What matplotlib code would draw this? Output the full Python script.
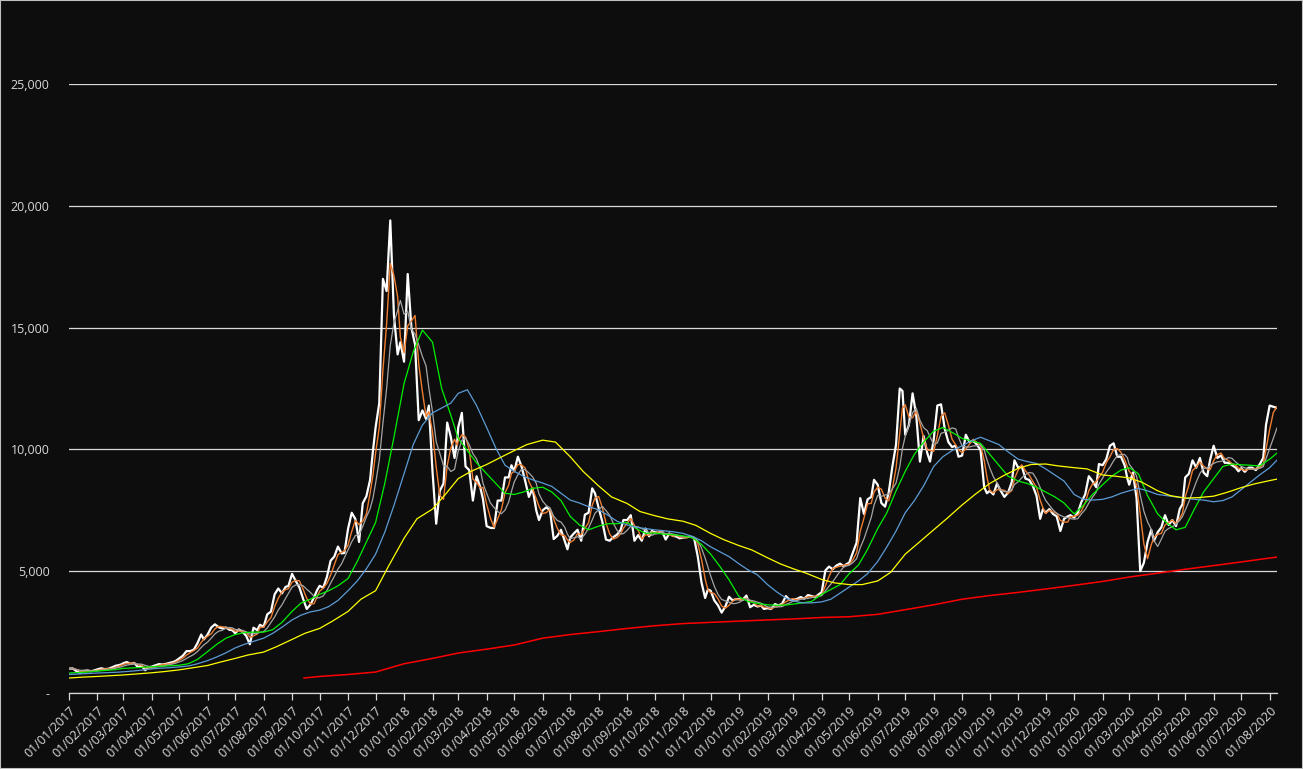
import matplotlib

matplotlib.use("Agg")
import matplotlib.pyplot as plt
import matplotlib.dates as mdates
from matplotlib.ticker import FuncFormatter, MultipleLocator
from matplotlib.patches import Rectangle
import pandas as pd

# ---------------------------------------------------------------------------
# data (USD)
# ---------------------------------------------------------------------------

# price sampled on these days of every month, Jan 2017 - Jul 2020, then 1/5/9 Aug 2020
price_days = [1, 5, 9, 13, 17, 21, 25, 28]
price = [
    # 2017
    998, 1010, 900, 825, 905, 925, 895, 920,
    970, 1015, 980, 995, 1055, 1120, 1150, 1190,
    1222, 1270, 1195, 1235, 1070, 1115, 935, 1045,
    1080, 1135, 1185, 1170, 1200, 1240, 1280, 1335,
    1420, 1530, 1720, 1720, 1780, 2050, 2400, 2200,
    2400, 2690, 2820, 2700, 2650, 2690, 2590, 2580,
    2450, 2610, 2510, 2350, 2000, 2680, 2580, 2800,
    2720, 3230, 3340, 4050, 4290, 4090, 4360, 4390,
    4890, 4600, 4330, 3870, 3450, 3630, 3930, 4200,
    4400, 4320, 4770, 5430, 5600, 6010, 5730, 5750,
    6740, 7400, 7140, 6200, 7790, 8080, 8750, 9900,
    10900, 11900, 17000, 16500, 19400, 15500, 13900, 14400,
    # 2018
    13600, 17200, 15000, 14300, 11200, 11600, 11250, 11800,
    9100, 6950, 8300, 8600, 11100, 10500, 9650, 10350,
    10900, 11500, 9300, 9150, 7900, 8900, 8450, 7950,
    6850, 6780, 6770, 7900, 7900, 8850, 8850, 9350,
    9100, 9700, 9300, 8700, 8050, 8400, 7500, 7100,
    7500, 7620, 7500, 6320, 6450, 6700, 6250, 5900,
    6380, 6550, 6700, 6250, 7320, 7400, 8400, 8200,
    7600, 7030, 6300, 6250, 6400, 6500, 6700, 7100,
    7100, 7300, 6250, 6480, 6250, 6750, 6430, 6650,
    6600, 6580, 6650, 6300, 6550, 6450, 6420, 6350,
    6380, 6400, 6420, 6360, 5600, 4550, 3900, 4250,
    4200, 3800, 3600, 3300, 3550, 3950, 3800, 3850,
    # 2019
    3850, 3830, 4000, 3520, 3620, 3550, 3590, 3450,
    3480, 3450, 3650, 3590, 3670, 3980, 3820, 3820,
    3830, 3860, 3940, 3870, 4020, 3980, 3930, 4030,
    4140, 5030, 5190, 5080, 5230, 5310, 5200, 5290,
    5350, 5770, 6170, 8000, 7350, 7950, 8050, 8750,
    8550, 7800, 7650, 8230, 9300, 10200, 12500, 12400,
    10600, 11000, 12300, 11400, 9500, 10550, 9850, 9500,
    10400, 11800, 11850, 10850, 10300, 10100, 10150, 9700,
    9750, 10600, 10300, 10350, 10200, 9980, 8450, 8200,
    8300, 8150, 8600, 8300, 8050, 8220, 8650, 9550,
    9250, 9300, 8800, 8750, 8500, 8100, 7150, 7550,
    7400, 7550, 7350, 7250, 6650, 7150, 7250, 7300,
    # 2020
    7200, 7400, 7850, 8150, 8900, 8700, 8450, 9400,
    9350, 9600, 10150, 10250, 9700, 9700, 9350, 8800,
    8550, 9050, 8000, 5000, 5350, 6200, 6700, 6250,
    6600, 6800, 7300, 6900, 7100, 6850, 7550, 7750,
    8850, 9000, 9550, 9250, 9650, 9050, 8900, 9550,
    10150, 9650, 9750, 9450, 9450, 9350, 9250, 9100,
    9230, 9080, 9250, 9250, 9150, 9380, 9650, 11000,
    11800, 11750, 11700,
]

# green and blue averages read on the 1st, 11th and 21st, then 1 and 9 Aug 2020
ma_mid_days = [1, 11, 21]
ma_green = [
    820, 840, 860, 900, 930, 960, 1010, 1030, 1050, 1080, 1100, 1115,
    1140, 1200, 1380, 1700, 2000, 2250, 2400, 2480, 2500, 2500, 2600, 2900,
    3350, 3700, 3850, 4050, 4200, 4400, 4700, 5400, 6200, 7000, 8600, 10500,
    12700, 14000, 14900, 14400, 12500, 11400, 10450, 9950, 9450, 9000, 8600, 8200,
    8150, 8250, 8400, 8450, 8250, 7900, 7250, 6900, 6700, 6850, 6950, 6950,
    7000, 6750, 6550, 6570, 6520, 6500, 6450, 6380, 6100, 5700, 5200, 4650,
    3950, 3750, 3680, 3620, 3600, 3610, 3650, 3700, 3760, 4050, 4250, 4450,
    4900, 5250, 5900, 6750, 7400, 8300, 9100, 9800, 10300, 10750, 10900, 10700,
    10450, 10350, 10250, 9800, 9350, 8900, 8700, 8600, 8450, 8250, 8050, 7800,
    7350, 7700, 8150, 8550, 8900, 9150, 9250, 9000, 8100, 7350, 6980, 6700,
    6800, 7550, 8250, 8800, 9300, 9400, 9370, 9350, 9320,
    9600, 9850,
]
ma_blue = [
    760, 780, 800, 820, 835, 850, 870, 900, 940, 990, 1020, 1040,
    1070, 1110, 1200, 1330, 1480, 1650, 1850, 2000, 2120, 2250, 2450, 2700,
    3000, 3200, 3330, 3400, 3550, 3800, 4200, 4600, 5100, 5700, 6600, 7700,
    9000, 10200, 11000, 11500, 11700, 11900, 12300, 12450, 11800, 10900, 10050, 9350,
    9100, 8900, 8750, 8620, 8480, 8200, 7920, 7800, 7650, 7520, 7300, 7050,
    6900, 6800, 6750, 6700, 6660, 6620, 6550, 6430, 6250, 6000, 5800, 5600,
    5300, 5050, 4850, 4450, 4150, 3900, 3780, 3700, 3700, 3740, 3850, 4100,
    4350, 4600, 4900, 5400, 6000, 6650, 7400, 7900, 8500, 9300, 9700, 9950,
    10150, 10350, 10500, 10350, 10200, 9900, 9600, 9500, 9420, 9200, 8950, 8700,
    8150, 7950, 7920, 7950, 8050, 8200, 8300, 8400, 8300, 8150, 8100, 8050,
    8000, 7950, 7920, 7850, 7900, 8050, 8350, 8650, 8950,
    9250, 9560,
]

# yellow average read on the 1st and 15th, then 1 and 9 Aug 2020
ma_slow_days = [1, 15]
ma_yellow = [
    615, 650, 680, 710, 740, 780, 830, 880, 950, 1030, 1130, 1270,
    1420, 1560, 1680, 1900, 2200, 2450, 2650, 2950, 3350, 3850, 4200, 5200,
    6350, 7150, 7550, 8150, 8800, 9100, 9380, 9650, 9950, 10200, 10380, 10300,
    9700, 9100, 8500, 8050, 7780, 7450, 7280, 7150, 7050, 6880, 6550, 6300,
    6050, 5870, 5550, 5300, 5100, 4920, 4660, 4520, 4450, 4450, 4600, 4950,
    5700, 6150, 6700, 7150, 7720, 8150, 8600, 8900, 9220, 9380, 9400, 9320,
    9250, 9200, 8950, 8900, 8830, 8650, 8300, 8100, 8000, 8020, 8080, 8230,
    8430, 8580,
    8720, 8780,
]

# red (long) average: 14 Sep 2017, then 1st of each month to Aug 2020, then 9 Aug 2020
ma_red = [
    615, 680, 760, 860,
    1200, 1420, 1640, 1800, 1970, 2250, 2400, 2520, 2650, 2760, 2850, 2900,
    2950, 3000, 3040, 3100, 3130, 3230, 3420, 3620, 3850, 4000, 4130, 4270,
    4420, 4580, 4760, 4920, 5080, 5230, 5380, 5540,
    5580,
]

# ---------------------------------------------------------------------------
# dates for each series
# ---------------------------------------------------------------------------

months = pd.date_range("2017-01-01", "2020-07-01", freq="MS")
last_days = [pd.Timestamp(2020, 8, 1), pd.Timestamp(2020, 8, 9)]

price_dates = [pd.Timestamp(m.year, m.month, d) for m in months for d in price_days]
price_dates += [pd.Timestamp(2020, 8, d) for d in (1, 5, 9)]
mid_dates = [pd.Timestamp(m.year, m.month, d) for m in months for d in ma_mid_days] + last_days
slow_dates = [pd.Timestamp(m.year, m.month, d) for m in months for d in ma_slow_days] + last_days
red_dates = [pd.Timestamp(2017, 9, 14)] + list(
    pd.date_range("2017-10-01", "2020-08-01", freq="MS")
) + [pd.Timestamp(2020, 8, 9)]

# short averages of the price itself
s_price = pd.Series(price, index=pd.DatetimeIndex(price_dates))
s_fast = s_price.rolling("10D").mean()
s_gray = s_price.rolling("21D").mean()

# ---------------------------------------------------------------------------
# figure
# ---------------------------------------------------------------------------

fundo = "#0d0d0d"
texto = "#d9d9d9"

plt.rcParams.update(
    {
        "font.family": ["Open Sans", "DejaVu Sans"],
        "font.size": 9,
        "text.color": texto,
        "xtick.color": texto,
        "ytick.color": texto,
    }
)

fig = plt.figure(figsize=(13.03, 7.69), dpi=100, facecolor=fundo)
ax = fig.add_axes([69 / 1303, 76 / 769, 1208 / 1303, 609 / 769])
ax.set_facecolor(fundo)

ax.plot(s_price.index, s_price.values, color="white", lw=1.6, zorder=3)
ax.plot(s_fast.index, s_fast.values, color="#ed7d31", lw=1.0, zorder=4)
ax.plot(s_gray.index, s_gray.values, color="#a5a5a5", lw=0.9, zorder=4)
ax.plot(mid_dates, ma_green, color="#00f000", lw=0.9, zorder=5)
ax.plot(mid_dates, ma_blue, color="#5b9bd5", lw=0.9, zorder=5)
ax.plot(slow_dates, ma_yellow, color="#ffff00", lw=0.9, zorder=5)
ax.plot(red_dates, ma_red, color="#ff0000", lw=1.1, zorder=5)

ax.set_xlim(pd.Timestamp(2017, 1, 1), pd.Timestamp(2020, 8, 9))
ax.set_ylim(0, 25000)
ax.yaxis.set_major_locator(MultipleLocator(5000))
ax.yaxis.set_major_formatter(
    FuncFormatter(lambda v, p: "-" if v == 0 else f"{v:,.0f}")
)
ax.yaxis.grid(True, color=texto, lw=0.9, zorder=1)
ax.set_axisbelow(True)

ax.xaxis.set_major_locator(mdates.MonthLocator(bymonthday=1))
ax.xaxis.set_major_formatter(mdates.DateFormatter("%d/%m/%Y"))
ax.tick_params(axis="x", direction="out", length=5, width=0.9, color=texto, pad=3)
ax.tick_params(axis="y", length=0, pad=14)
for lbl in ax.get_xticklabels():
    lbl.set_rotation(45)
    lbl.set_ha("right")
    lbl.set_va("top")
    lbl.set_rotation_mode("anchor")

for lado in ["top", "right", "left"]:
    ax.spines[lado].set_visible(False)
ax.spines["bottom"].set_color(texto)
ax.spines["bottom"].set_linewidth(0.9)

fig.patches.append(
    Rectangle(
        (0, 0), 1, 1, transform=fig.transFigure, fill=False,
        edgecolor="#bfbfbf", lw=1.5,
    )
)

fig.savefig("out.png", dpi=100, facecolor=fundo)
